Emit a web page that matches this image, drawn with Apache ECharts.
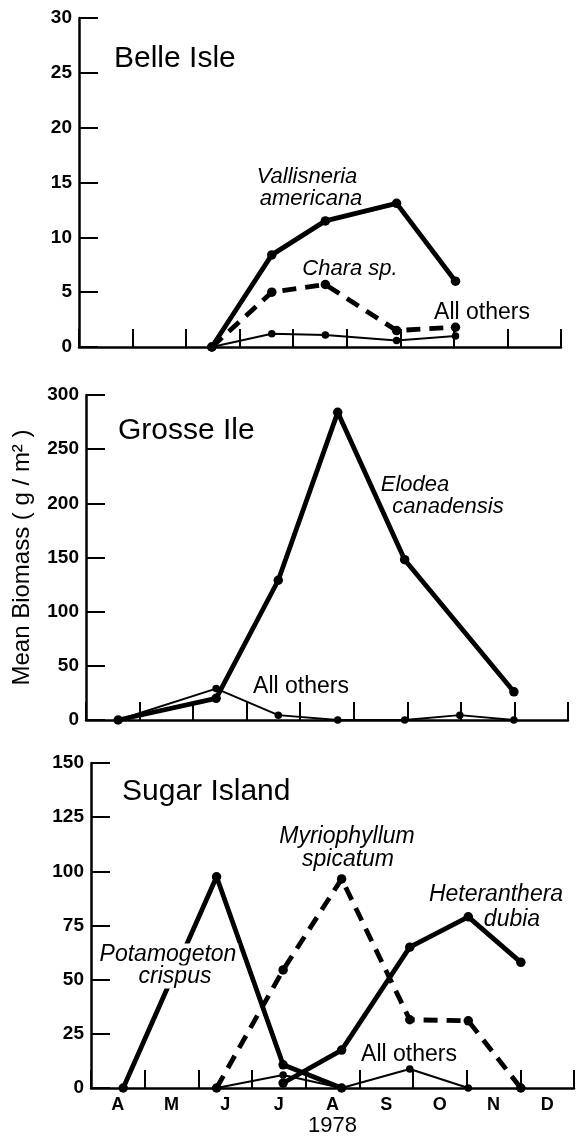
<!DOCTYPE html>
<html>
<head>
<meta charset="utf-8">
<script src="https://cdn.jsdelivr.net/npm/echarts@6/dist/echarts.min.js"></script>
<style>
  html, body { margin: 0; padding: 0; background: #fff; }
  #chart { width: 576px; height: 1137px; }
</style>
</head>
<body>
<div id="chart"></div>
<script>
// Time axis: months since 1 April 1978 (0 = 1 Apr ... 9 = 1 Jan)
const monthLabels = ['A', 'M', 'J', 'J', 'A', 'S', 'O', 'N', 'D'];

// Belle Isle
const belleTicks = [0, 5, 10, 15, 20, 25, 30];
const belleDates = [2.48, 3.6, 4.6, 5.93, 7.03];
const vallisneria = [0, 8.4, 11.5, 13.1, 6.0];
const chara = [0, 5.0, 5.7, 1.5, 1.8];
const belleOthers = [0, 1.2, 1.1, 0.6, 1.0];

// Grosse Ile
const grosseTicks = [0, 50, 100, 150, 200, 250, 300];
const grosseDates = [0.6, 2.43, 3.59, 4.7, 5.95, 6.98, 7.99];
const elodea = [0, 20, 129, 284, 148, null, 26];
const grosseOthers = [0, 29, 4.5, 0, 0, 4.5, 0];

// Sugar Island
const sugarTicks = [0, 25, 50, 75, 100, 125, 150];
const sugarDates = [0.6, 2.34, 3.58, 4.67, 5.94, 7.03, 8.01];
const potamogeton = [0, 97.5, 10.7, 0, null, null, null];
const myriophyllum = [null, 0, 54.5, 96.5, 31.5, 31, 0];
const heteranthera = [null, null, 2.3, 17.5, 65, 79, 58];
const sugarOthers = [null, 0, 6, 0, 8.8, 0, null];

const FONT = '"Liberation Sans", Arial, Helvetica, sans-serif';
const INK = '#000';

function pairs(dates, values) {
  return dates.map((d, i) => [d, values[i]]).filter(p => p[1] !== null);
}

function timeAxis(gridIndex) {
  return {
    type: 'value', gridIndex: gridIndex, min: 0, max: 9, interval: 1,
    axisLine: { show: true, onZero: false, lineStyle: { color: INK, width: 2.5 } },
    axisTick: { show: true, inside: true, length: 18, lineStyle: { color: INK, width: 2 } },
    axisLabel: { show: false },
    splitLine: { show: false }
  };
}

function valueAxis(gridIndex, ticks, extra) {
  return Object.assign({
    type: 'value', gridIndex: gridIndex,
    min: ticks[0], max: ticks[ticks.length - 1], interval: ticks[1] - ticks[0],
    axisLine: { show: true, onZero: false, lineStyle: { color: INK, width: 2.5 } },
    axisTick: { show: true, inside: true, length: 19, lineStyle: { color: INK, width: 2 } },
    axisLabel: { color: INK, fontFamily: FONT, fontWeight: 'bold', fontSize: 19, margin: 7 },
    splitLine: { show: false }
  }, extra || {});
}

function lineSeries(axisIndex, dates, values, kind) {
  const thin = kind === 'thin';
  return {
    type: 'line', xAxisIndex: axisIndex, yAxisIndex: axisIndex,
    data: pairs(dates, values),
    symbol: 'circle', symbolSize: thin ? 7.5 : 9.5,
    showSymbol: true,
    lineStyle: {
      color: INK, width: thin ? 2 : 4.8,
      type: kind === 'dash' ? [14, 9] : 'solid',
      cap: 'butt'
    },
    itemStyle: { color: INK, borderWidth: 0 },
    z: thin ? 3 : 4,
    animation: false
  };
}

function label(text, x, y, opts) {
  return {
    type: 'text', x: x, y: y, z: 100,
    style: Object.assign({
      text: text, fill: INK, font: '22px ' + FONT,
      textAlign: 'center', textVerticalAlign: 'middle'
    }, opts || {})
  };
}

const italic = size => 'italic ' + size + 'px ' + FONT;

const chart = echarts.init(document.getElementById('chart'), null, { renderer: 'canvas' });

chart.setOption({
  backgroundColor: '#fff',
  animation: false,
  grid: [
    { left: 79, top: 18, width: 482, height: 329, outerBoundsMode: 'none' },
    { left: 86, top: 395, width: 482, height: 325, outerBoundsMode: 'none' },
    { left: 91, top: 763, width: 483, height: 325, outerBoundsMode: 'none' }
  ],
  xAxis: [
    timeAxis(0),
    timeAxis(1),
    timeAxis(2),
    {
      type: 'category', gridIndex: 2, position: 'bottom', data: monthLabels,
      boundaryGap: true,
      axisLine: { show: false }, axisTick: { show: false }, splitLine: { show: false },
      axisLabel: { color: INK, fontFamily: FONT, fontWeight: 'bold', fontSize: 18, margin: 8 },
      name: '1978', nameLocation: 'middle', nameGap: 26,
      nameTextStyle: { color: INK, fontFamily: FONT, fontSize: 22 }
    }
  ],
  yAxis: [
    valueAxis(0, belleTicks),
    valueAxis(1, grosseTicks, {
      name: 'Mean Biomass ( g / m\u00B2 )', nameLocation: 'middle', nameRotate: 90, nameGap: 52,
      nameTextStyle: { color: INK, fontFamily: FONT, fontSize: 24 }
    }),
    valueAxis(2, sugarTicks)
  ],
  series: [
    lineSeries(0, belleDates, belleOthers, 'thin'),
    lineSeries(0, belleDates, chara, 'dash'),
    lineSeries(0, belleDates, vallisneria, 'solid'),

    lineSeries(1, grosseDates, grosseOthers, 'thin'),
    lineSeries(1, grosseDates, elodea, 'solid'),

    lineSeries(2, sugarDates, sugarOthers, 'thin'),
    lineSeries(2, sugarDates, myriophyllum, 'dash'),
    lineSeries(2, sugarDates, heteranthera, 'solid'),
    lineSeries(2, sugarDates, potamogeton, 'solid')
  ],
  graphic: [
    // panel titles
    label('Belle Isle', 114, 59, { font: '30px ' + FONT, textAlign: 'left' }),
    label('Grosse Ile', 118, 431, { font: '30px ' + FONT, textAlign: 'left' }),
    label('Sugar Island', 122, 792, { font: '30px ' + FONT, textAlign: 'left' }),

    // Belle Isle species
    label('Vallisneria', 307, 177, { font: italic(22) }),
    label('americana', 311, 199, { font: italic(22) }),
    label('Chara sp.', 350, 269, { font: italic(22) }),
    label('All others', 482, 313, { font: '23px ' + FONT }),

    // Grosse Ile species
    label('Elodea', 415, 485, { font: italic(22) }),
    label('canadensis', 448, 507, { font: italic(22) }),
    label('All others', 301, 687, { font: '23px ' + FONT }),

    // Sugar Island species
    label('Myriophyllum', 347, 837, { font: italic(23) }),
    label('spicatum', 348, 860, { font: italic(23) }),
    label('Heteranthera', 496, 895, { font: italic(23) }),
    label('dubia', 512, 920, { font: italic(23) }),
    label('Potamogeton', 168, 955, { font: italic(23), backgroundColor: '#fff', padding: [0, 2] }),
    label('crispus', 175, 977, { font: italic(23), backgroundColor: '#fff', padding: [0, 2] }),
    label('All others', 409, 1055, { font: '23px ' + FONT })
  ]
});
</script>
</body>
</html>
